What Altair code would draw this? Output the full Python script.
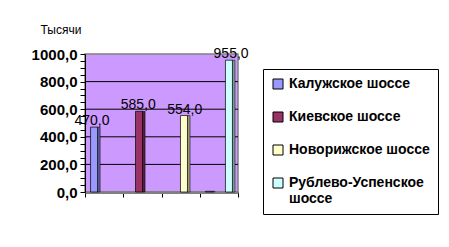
import altair as alt
import pandas as pd

categories = ["1", "2", "3", "4"]
series = ["Калужское шоссе", "Киевское шоссе", "Новорижское шоссе", "Рублево-Успенское шоссе"]
colors = ["#9999FF", "#993366", "#FFFFCC", "#CCFFFF"]
side_colors = ["#5C5C99", "#5C1F3D", "#99997A", "#7A9999"]
# values per series across the 4 categories
kaluzh = [470, 0, 0, 5]
kiev = [0, 585, 0, 0]
novor = [0, 0, 554, 0]
rubl = [0, 0, 0, 955]
grid_values = [200, 400, 600, 800]

rows = []
for s, sc, vals in zip(series, side_colors, [kaluzh, kiev, novor, rubl]):
    for c, v in zip(categories, vals):
        rows.append({"cat": c, "series": s, "value": v, "side": sc})
df = pd.DataFrame(rows)

yscale = alt.Scale(domain=[0, 1000], nice=False)
xscale = alt.Scale(domain=categories, paddingInner=0, paddingOuter=0)

x_axis = alt.Axis(labels=False, title=None, tickBand="extent", ticks=True,
                  tickSize=5, tickColor="#000000", domainColor="#808080",
                  domainWidth=3, grid=False)
y_axis = alt.Axis(values=list(range(0, 1001, 50)),
                  labelExpr="datum.value % 200 == 0 ? replace(format(datum.value, '.1f'), '.', ',') : ''",
                  labelOverlap=False,
                  grid=False, tickSize=5, tickColor="#000000",
                  domainColor="#000000", labelFont="Liberation Sans",
                  labelFontSize=15, labelFontWeight="bold", labelColor="#000000",
                  labelPadding=3,
                  title="Тысячи", titleAngle=0, titleAlign="left",
                  titleBaseline="alphabetic", titleX=-45, titleY=-21,
                  titleFont="Liberation Sans", titleFontSize=12,
                  titleFontWeight="normal", titleColor="#000000")

X = alt.X("cat:N", scale=xscale, sort=categories, axis=x_axis)
Y = alt.Y("value:Q", scale=yscale, axis=y_axis)
xoff_main = alt.XOffset("series:N", sort=series,
                        scale=alt.Scale(domain=series, paddingOuter=0.85, paddingInner=0))
xoff_side = alt.XOffset("series:N", sort=series,
                        scale=alt.Scale(domain=series, paddingOuter=0.85, paddingInner=0,
                                        align=0.9))

side = alt.Chart(df).transform_filter("datum.value > 0").mark_bar(
    width=3, stroke="#000000", strokeWidth=0.5).encode(
    x=X, xOffset=xoff_side, y=Y,
    color=alt.Color("side:N", scale=None, legend=None),
)

bars = alt.Chart(df).transform_filter("datum.value > 0").mark_bar(
    width=7, stroke="#000000", strokeWidth=0.7).encode(
    x=X, xOffset=xoff_main, y=Y,
    color=alt.Color("series:N", sort=series,
                    scale=alt.Scale(domain=series, range=colors),
                    legend=alt.Legend(title=None, orient="none", legendX=178, legendY=15,
                                      symbolType="square", symbolSize=100,
                                      symbolStrokeColor="#000000", symbolStrokeWidth=1,
                                      labelFont="Liberation Sans", labelFontSize=14,
                                      labelFontWeight="bold", labelColor="#000000",
                                      labelLimit=200, rowPadding=19, padding=8,
                                      strokeColor="#000000",
                                      labelExpr="datum.label == 'Рублево-Успенское шоссе' ? ['Рублево-Успенское', 'шоссе'] : datum.label")),
)

labels = alt.Chart(df).transform_filter("datum.value > 50").transform_calculate(
    txt="replace(format(datum.value, '.1f'), '.', ',')"
).mark_text(baseline="alphabetic", dy=-2, font="Liberation Sans", fontSize=14,
            color="#000000").encode(
    x=X, xOffset=xoff_main, y=Y,
    text="txt:N",
)

grid = alt.Chart(pd.DataFrame({"value": grid_values})).mark_rule(
    color="#000000", strokeWidth=1).encode(y=Y)

chart = alt.layer(grid, side, bars, labels).resolve_scale(
    xOffset="independent", color="independent").properties(
    width=153, height=138,
    background="#FFFFFF",
    autosize=alt.AutoSizeParams(type="none"),
    padding={"left": 85, "top": 54, "right": 211, "bottom": 55},
).configure_view(fill="#CC99FF", stroke="#808080", strokeWidth=1.5)

chart.save("out.html", embed_options={"renderer": "svg", "actions": False})
